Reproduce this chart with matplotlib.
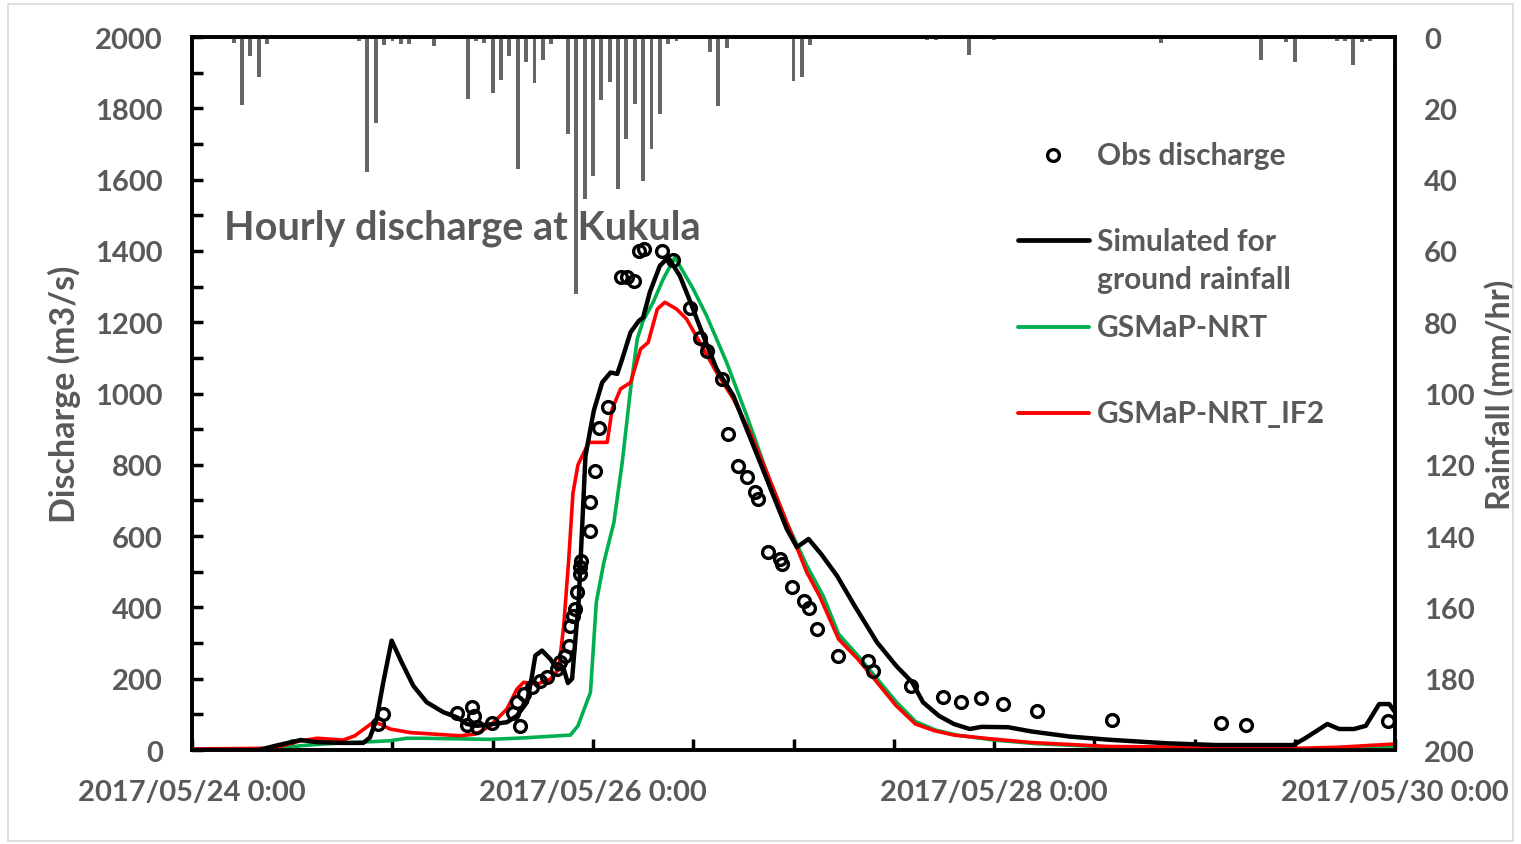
import numpy as np
import matplotlib
matplotlib.use("Agg")
import matplotlib.pyplot as plt
from matplotlib.patches import Rectangle

# hours since 2017/05/24 0:00
rain_hr = [5, 6, 7, 8, 9, 20, 21, 22, 23, 24, 25, 26, 29, 30, 33, 34, 35, 36, 37, 38, 39,
           40, 41, 42, 43, 45, 46, 47, 48, 49, 50, 51, 52, 53, 54, 55, 56, 57, 58,
           62, 63, 64, 72, 73, 74, 83, 88, 89, 93, 95, 96, 101, 116, 128, 131, 132,
           137, 138, 139, 140, 141, 144]
rain_mm = [1.7, 19, 5.4, 11.3, 2, 1, 38, 24, 2.2, 1.2, 2, 2, 2.6, 0.5, 17.4, 1, 1.7, 15.8, 12, 5.4, 37,
           6.9, 12.9, 6.5, 2, 27.2, 72, 45.3, 38.9, 17.7, 12.7, 42.5, 28.6, 18.8, 40.3, 31.4, 21.6, 2, 1,
           4.1, 19.3, 3.1, 12.4, 11.1, 2.2, 0.3, 0.8, 0.8, 5, 0.5, 0.8, 0.3, 1.7, 6.4, 1.5, 6.9,
           1, 1, 7.9, 1.5, 1, 8]

obs_hr = [22.3, 22.9, 31.7, 32.9, 33.5, 33.7, 34.1, 35.9, 38.4, 38.9, 39.3, 39.7, 40.7, 41.7, 42.5,
          43.7, 44.1, 44.7, 45.1, 45.3, 45.6, 45.9, 46.1, 46.4, 46.5, 46.6, 47.7, 47.7, 48.3, 48.7,
          49.8, 51.3, 52.1, 52.9, 53.5, 54.1, 56.3, 57.6, 59.6, 60.8, 61.6, 63.4, 64.2, 65.4, 66.4,
          67.4, 67.8, 69.0, 70.4, 70.6, 71.8, 73.2, 73.8, 74.8, 77.3, 80.9, 81.5, 86.1, 89.9, 92.1,
          94.5, 97.1, 101.1, 110.1, 123.2, 126.1, 143.1]
obs_q = [73, 101, 104, 71, 120, 96, 64, 76, 103, 134, 68, 157, 176, 194, 205,
         227, 246, 265, 293, 349, 377, 396, 442, 494, 513, 530, 615, 695, 783, 903,
         963, 1326, 1326, 1316, 1400, 1405, 1400, 1375, 1239, 1157, 1120, 1041, 886, 797, 765,
         723, 704, 555, 536, 522, 456, 418, 398, 339, 263, 249, 223, 179, 150, 134,
         145, 129, 110, 85, 76, 70, 82]

sim_hr = [0, 8, 10, 13, 15, 18, 20.5, 21.3, 22.1, 22.9, 23.9, 25.1, 26.5, 28.1, 30.1, 31.7, 32.9,
          34.1, 36.1, 37.7, 38.9, 40.1, 40.7, 41.1, 41.9, 42.9, 43.7, 44.5, 45.0, 45.5, 46.3, 47.1,
          48.1, 49.1, 50.1, 50.9, 51.5, 52.5, 53.5, 54.0, 54.8, 56.0, 57.0, 58.4, 59.6, 61.2, 62.8,
          64.8, 66.4, 68.0, 69.6, 71.2, 72.4, 73.8, 75.3, 77.2, 79.3, 82.0, 84.3, 86.2, 87.5, 89.4,
          91.2, 93.1, 94.5, 97.7, 100.5, 105, 109.7, 116.6, 122.6, 131.8, 133.1, 135.9, 137.3,
          139.1, 140.5, 142.1, 143.3, 144]
sim_q = [0, 0, 12, 28, 22, 20, 20, 35, 87, 190, 307, 246, 180, 134, 106, 92, 73,
         68, 73, 78, 96, 134, 208, 265, 279, 255, 227, 227, 188, 200, 423, 825,
         952, 1031, 1059, 1055, 1097, 1172, 1204, 1213, 1284, 1358, 1382, 1330, 1260, 1162, 1069,
         994, 900, 807, 713, 620, 569, 592, 550, 489, 405, 302, 236, 190, 134, 96,
         73, 59, 65, 64, 52, 38, 29, 19, 14, 14, 31, 73, 59,
         59, 68, 129, 129, 106]

nrt_hr = [0, 10.5, 13, 15.7, 23.7, 25.7, 27.7, 35.7, 39.7, 45.3, 46.2, 47.7, 48.4, 49.3, 50.5,
          51.5, 52.5, 53.3, 54.0, 55.2, 56.4, 57.8, 60.0, 61.6, 64.0, 66.4, 68.8, 71.2, 73.6,
          75.6, 77.4, 79.7, 82.0, 84.3, 86.6, 89, 91.5, 96, 101, 110, 120, 132, 138, 144]
nrt_q = [0, 5, 12, 17, 26, 33, 33, 30, 34, 42, 68, 162, 415, 526, 638,
         807, 1013, 1153, 1204, 1256, 1321, 1382, 1293, 1218, 1087, 938, 779, 638, 517,
         430, 325, 265, 200, 135, 80, 56, 42, 28, 18, 8, 5, 3, 5, 10]

if2_hr = [0, 9.7, 13, 15, 18.1, 19.5, 21.7, 22.5, 23.7, 26.1, 32.1, 34, 35.7, 37.7, 38.9, 39.7,
          41.3, 42.9, 43.9, 44.5, 45.1, 45.6, 46.2, 47.5, 49.7, 50.3, 51.3, 52.5, 53.7, 54.6,
          55.7, 56.6, 58, 59.2, 60.8, 62.8, 64.8, 66.8, 68.8, 71.2, 73.6, 75.1, 77.4, 79.7, 82,
          84.3, 86.6, 88.9, 91.2, 95.8, 100.5, 109.7, 118.9, 132.7, 137.3, 144]
if2_q = [3, 5, 26, 33, 28, 40, 78, 73, 59, 49, 40, 45, 68, 115, 171, 190,
         185, 199, 227, 349, 536, 720, 800, 863, 863, 957, 1013, 1031, 1125, 1143,
         1237, 1256, 1237, 1209, 1143, 1059, 985, 891, 779, 638, 498, 433, 311, 255, 190,
         124, 73, 54, 42, 31, 21, 10, 8, 5, 8, 17]

date_ticks = [0, 48, 96, 144]
date_labels = ["2017/05/24 0:00", "2017/05/26 0:00", "2017/05/28 0:00", "2017/05/30 0:00"]

GREY = "#595959"
plt.rcParams["font.family"] = ["Lato", "DejaVu Sans"]
plt.rcParams["font.weight"] = "bold"

fig = plt.figure(figsize=(15.21, 8.45), dpi=100)
ax = fig.add_axes([0.1262, 0.1112, 0.7910, 0.8438])
fig.patches.append(Rectangle((0.005, 0.004), 0.99, 0.99, transform=fig.transFigure,
                             fill=False, edgecolor="#d9d9d9", linewidth=1.2))

ax.plot(sim_hr, sim_q, color="black", lw=3.2, zorder=4)
ax.plot(nrt_hr, nrt_q, color="#00B050", lw=2.6, zorder=3)
ax.plot(if2_hr, if2_q, color="#FF0000", lw=2.6, zorder=3)
ax.plot(obs_hr, obs_q, ls="none", marker="o", ms=8.5, mfc="none", mec="black", mew=2.4, zorder=5)

ax.set_xlim(0, 144)
ax.set_ylim(0, 2000)
ax.set_xticks(date_ticks)
ax.set_xticklabels(date_labels)
ax.set_xticks(np.arange(0, 145, 12), minor=True)
ax.set_yticks(np.arange(0, 2001, 200))
ax.set_yticks(np.arange(0, 2001, 100), minor=True)
ax.tick_params(axis="both", which="both", direction="in", width=2.5, color="black",
               labelsize=21, labelcolor=GREY, length=8)
ax.tick_params(axis="x", pad=21)
ax.tick_params(axis="y", pad=21)
ax.set_ylabel("Discharge (m3/s)", fontsize=24.5, color=GREY, fontweight="bold", labelpad=10)
for s in ax.spines.values():
    s.set_linewidth(2.6)
    s.set_color("black")

ax2 = ax.twinx()
ax2.bar(rain_hr, rain_mm, width=0.47, bottom=0, color="#666666", zorder=2)
ax2.set_ylim(200, 0)
ax2.set_yticks(np.arange(0, 201, 20))
ax2.tick_params(axis="y", length=0, labelsize=21, labelcolor=GREY, pad=21)
ax2.set_ylabel("Rainfall (mm/hr)", fontsize=23, color=GREY, fontweight="bold", labelpad=7)
for s in ax2.spines.values():
    s.set_linewidth(2.6)
    s.set_color("black")
ax2.set_xlim(0, 144)

ax.text(0.027, 0.733, "Hourly discharge at Kukula", transform=ax.transAxes, fontsize=28.5,
        color=GREY, fontweight="bold", va="center", ha="left", zorder=1)

# legend drawn by hand to keep the original uneven spacing
leg = [
    (0.835, 0.835, "Obs discharge", "obs", None),
    (0.715, 0.687, "Simulated for\nground rainfall", "line", "black"),
    (0.593, 0.593, "GSMaP-NRT", "line", "#00B050"),
    (0.473, 0.473, "GSMaP-NRT_IF2", "line", "#FF0000"),
]
for yy, ty, lab, kind, col in leg:
    if kind == "obs":
        ax.plot([0.716], [yy], transform=ax.transAxes, marker="o", ms=8.5, mfc="none",
                mec="black", mew=2.4, clip_on=False)
    else:
        ax.plot([0.687, 0.746], [yy, yy], transform=ax.transAxes, color=col,
                lw=3.4 if col == "black" else 2.8, solid_capstyle="round")
    ax.text(0.752, ty, lab, transform=ax.transAxes,
            fontsize=21.5, color=GREY, fontweight="bold", va="center", ha="left",
            linespacing=1.45)

fig.savefig("out.png", dpi=100)
